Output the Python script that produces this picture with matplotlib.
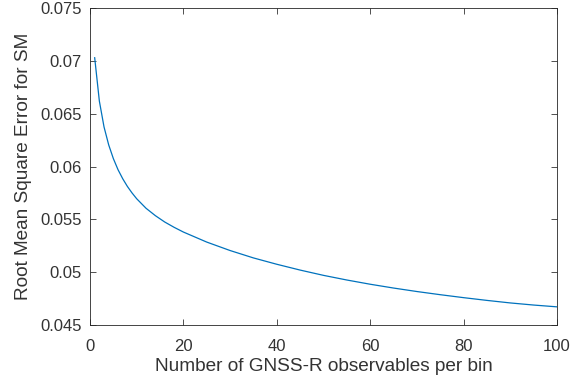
import numpy as np
import matplotlib.pyplot as plt

plt.rcParams['font.family'] = ['Liberation Sans', 'DejaVu Sans']

# RMSE of soil moisture vs number of observables per bin
n_obs = [1, 2, 3, 4, 5, 6, 7, 8, 9, 10, 12, 14, 16, 18, 20, 25, 30, 35, 40,
         45, 50, 55, 60, 65, 70, 75, 80, 85, 90, 95, 100]
rmse = [0.07030, 0.06620, 0.06375, 0.06205, 0.06075, 0.05970, 0.05885,
        0.05812, 0.05750, 0.05695, 0.05605, 0.05535, 0.05475, 0.05425,
        0.05380, 0.05285, 0.05205, 0.05135, 0.05075, 0.05020, 0.04970,
        0.04926, 0.04886, 0.04850, 0.04817, 0.04787, 0.04759, 0.04733,
        0.04709, 0.04689, 0.04672]

xticks = [0, 20, 40, 60, 80, 100]
yticks = [0.045, 0.05, 0.055, 0.06, 0.065, 0.07, 0.075]
ytick_labels = ['0.045', '0.05', '0.055', '0.06', '0.065', '0.07', '0.075']

fig = plt.figure(figsize=(5.83, 3.85), dpi=100)
ax = fig.add_axes([0.1544, 0.1558, 0.801, 0.8232])
ax.plot(n_obs, rmse, color='#0072BD', linewidth=0.9)

ax.set_xlim(0, 100)
ax.set_ylim(0.045, 0.075)
ax.set_xticks(xticks)
ax.set_yticks(yticks)
ax.set_yticklabels(ytick_labels)

grey = '#333333'
ax.tick_params(direction='in', top=True, right=True, length=4, width=0.6,
               colors=grey, labelsize=12)
ax.tick_params(axis='x', pad=10)
ax.tick_params(axis='y', pad=6)
for s in ax.spines.values():
    s.set_color('#262626')
    s.set_linewidth(0.6)

ax.set_xlabel('Number of GNSS-R observables per bin', fontsize=13.7,
              color=grey, labelpad=3)
ax.set_ylabel('Root Mean Square Error for SM', fontsize=13.7,
              color=grey, labelpad=6)

fig.savefig('out.png', dpi=100)
